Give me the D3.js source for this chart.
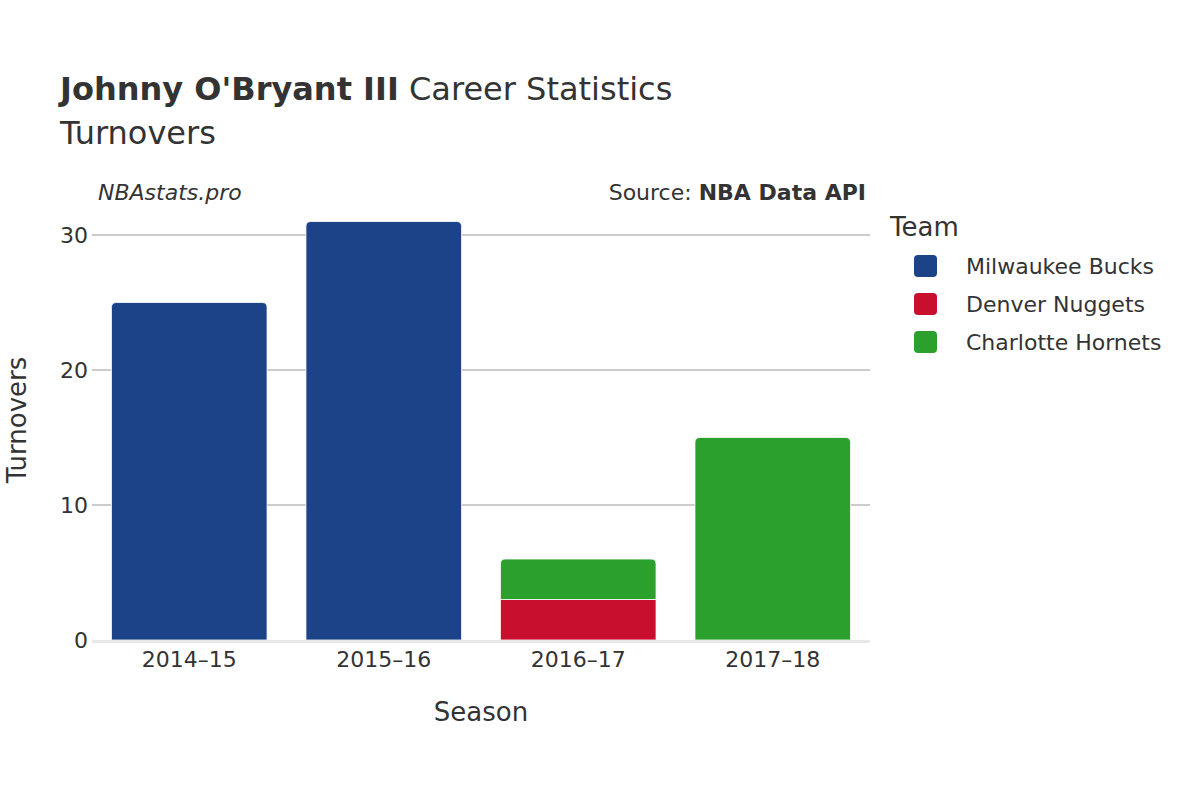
<!DOCTYPE html>
<html>
<head>
<meta charset="utf-8">
<script src="https://cdn.jsdelivr.net/npm/d3@7"></script>
<style>
  body { margin: 0; background: #fff; }
  text { font-family: "DejaVu Sans", sans-serif; fill: #333; }
</style>
</head>
<body>
<div id="chart"></div>
<script>
const seasons = ["2014–15", "2015–16", "2016–17", "2017–18"];
const teams = ["Milwaukee Bucks", "Denver Nuggets", "Charlotte Hornets"];
const teamColors = ["#1c4288", "#c8102e", "#2ca02c"];
// turnovers per season, one array per team
const bucks = [25, 31, 0, 0];
const nuggets = [0, 0, 3, 0];
const hornets = [0, 0, 3, 15];
const yTicks = [0, 10, 20, 30];

const width = 1200, height = 800;
const margin = { left: 92, right: 330, top: 215, bottom: 160 };

const svg = d3.select("#chart").append("svg")
  .attr("width", width).attr("height", height);

const x = d3.scaleBand().domain(seasons)
  .range([margin.left, width - margin.right]).paddingInner(0.2).paddingOuter(0.1);
const y = d3.scaleLinear().domain([0, 31 * 1.0]).range([height - margin.bottom, height - margin.bottom - 31 * 13.5]);

// gridlines
svg.append("g").selectAll("line").data(yTicks.slice(1)).enter().append("line")
  .attr("x1", margin.left).attr("x2", width - margin.right)
  .attr("y1", d => y(d)).attr("y2", d => y(d))
  .attr("stroke", "#999").attr("stroke-width", 1);

// stacked bars
const series = [bucks, nuggets, hornets];
const rows = seasons.map((s, i) => {
  const r = { season: s };
  teams.forEach((t, k) => r[t] = series[k][i]);
  return r;
});
const stack = d3.stack().keys(teams)(rows);
const topKey = seasons.map((s, i) => {
  let last = null;
  teams.forEach((t, k) => { if (series[k][i] > 0) last = k; });
  return last;
});

function barPath(x0, w, yTop, yBot, rounded) {
  const r = rounded ? Math.min(5, (yBot - yTop) / 2) : 0;
  return `M${x0},${yBot}V${yTop + r}Q${x0},${yTop} ${x0 + r},${yTop}H${x0 + w - r}Q${x0 + w},${yTop} ${x0 + w},${yTop + r}V${yBot}Z`;
}

stack.forEach((layer, k) => {
  svg.append("g").selectAll("path").data(layer).enter()
    .filter(d => d[1] - d[0] > 0)
    .append("path")
    .attr("d", (d, i) => {
      const idx = seasons.indexOf(d.data.season);
      return barPath(x(d.data.season), x.bandwidth(), y(d[1]), y(d[0]), topKey[idx] === k);
    })
    .attr("fill", teamColors[k])
    .attr("stroke", "#fff").attr("stroke-width", 0.8);
});

// baseline
svg.append("line")
  .attr("x1", margin.left).attr("x2", width - margin.right)
  .attr("y1", y(0) + 1.5).attr("y2", y(0) + 1.5)
  .attr("stroke", "#e8e8e8").attr("stroke-width", 3);

// y ticks
svg.append("g").selectAll("text").data(yTicks).enter().append("text")
  .attr("x", 88).attr("y", d => y(d) + 8)
  .attr("text-anchor", "end").attr("font-size", 22).text(d => d);

// x ticks
svg.append("g").selectAll("text").data(seasons).enter().append("text")
  .attr("x", d => x(d) + x.bandwidth() / 2).attr("y", 667)
  .attr("text-anchor", "middle").attr("font-size", 22).text(d => d);

// axis titles
svg.append("text").attr("x", 481).attr("y", 721).attr("text-anchor", "middle")
  .attr("font-size", 26).text("Season");
svg.append("text").attr("transform", "translate(26,420) rotate(-90)")
  .attr("text-anchor", "middle").attr("font-size", 26).text("Turnovers");

// titles
const title = svg.append("text").attr("x", 60).attr("y", 100).attr("font-size", 32);
title.append("tspan").attr("font-weight", "bold").text("Johnny O'Bryant III");
title.append("tspan").text(" Career Statistics");
svg.append("text").attr("x", 60).attr("y", 144).attr("font-size", 32).text("Turnovers");

svg.append("text").attr("x", 98).attr("y", 200).attr("font-size", 22)
  .attr("font-style", "italic").text("NBAstats.pro");
const src = svg.append("text").attr("x", 866).attr("y", 200).attr("font-size", 22)
  .attr("text-anchor", "end");
src.append("tspan").text("Source: ");
src.append("tspan").attr("font-weight", "bold").text("NBA Data API");

// legend
svg.append("text").attr("x", 890).attr("y", 236).attr("font-size", 26).text("Team");
const lg = svg.append("g").selectAll("g").data(teams).enter().append("g")
  .attr("transform", (d, i) => `translate(914,${266 + i * 38})`);
lg.append("rect").attr("x", 0).attr("y", -11).attr("width", 23).attr("height", 22)
  .attr("rx", 4).attr("fill", (d, i) => teamColors[i]);
lg.append("text").attr("x", 52).attr("y", 8).attr("font-size", 22).text(d => d);
</script>
</body>
</html>
